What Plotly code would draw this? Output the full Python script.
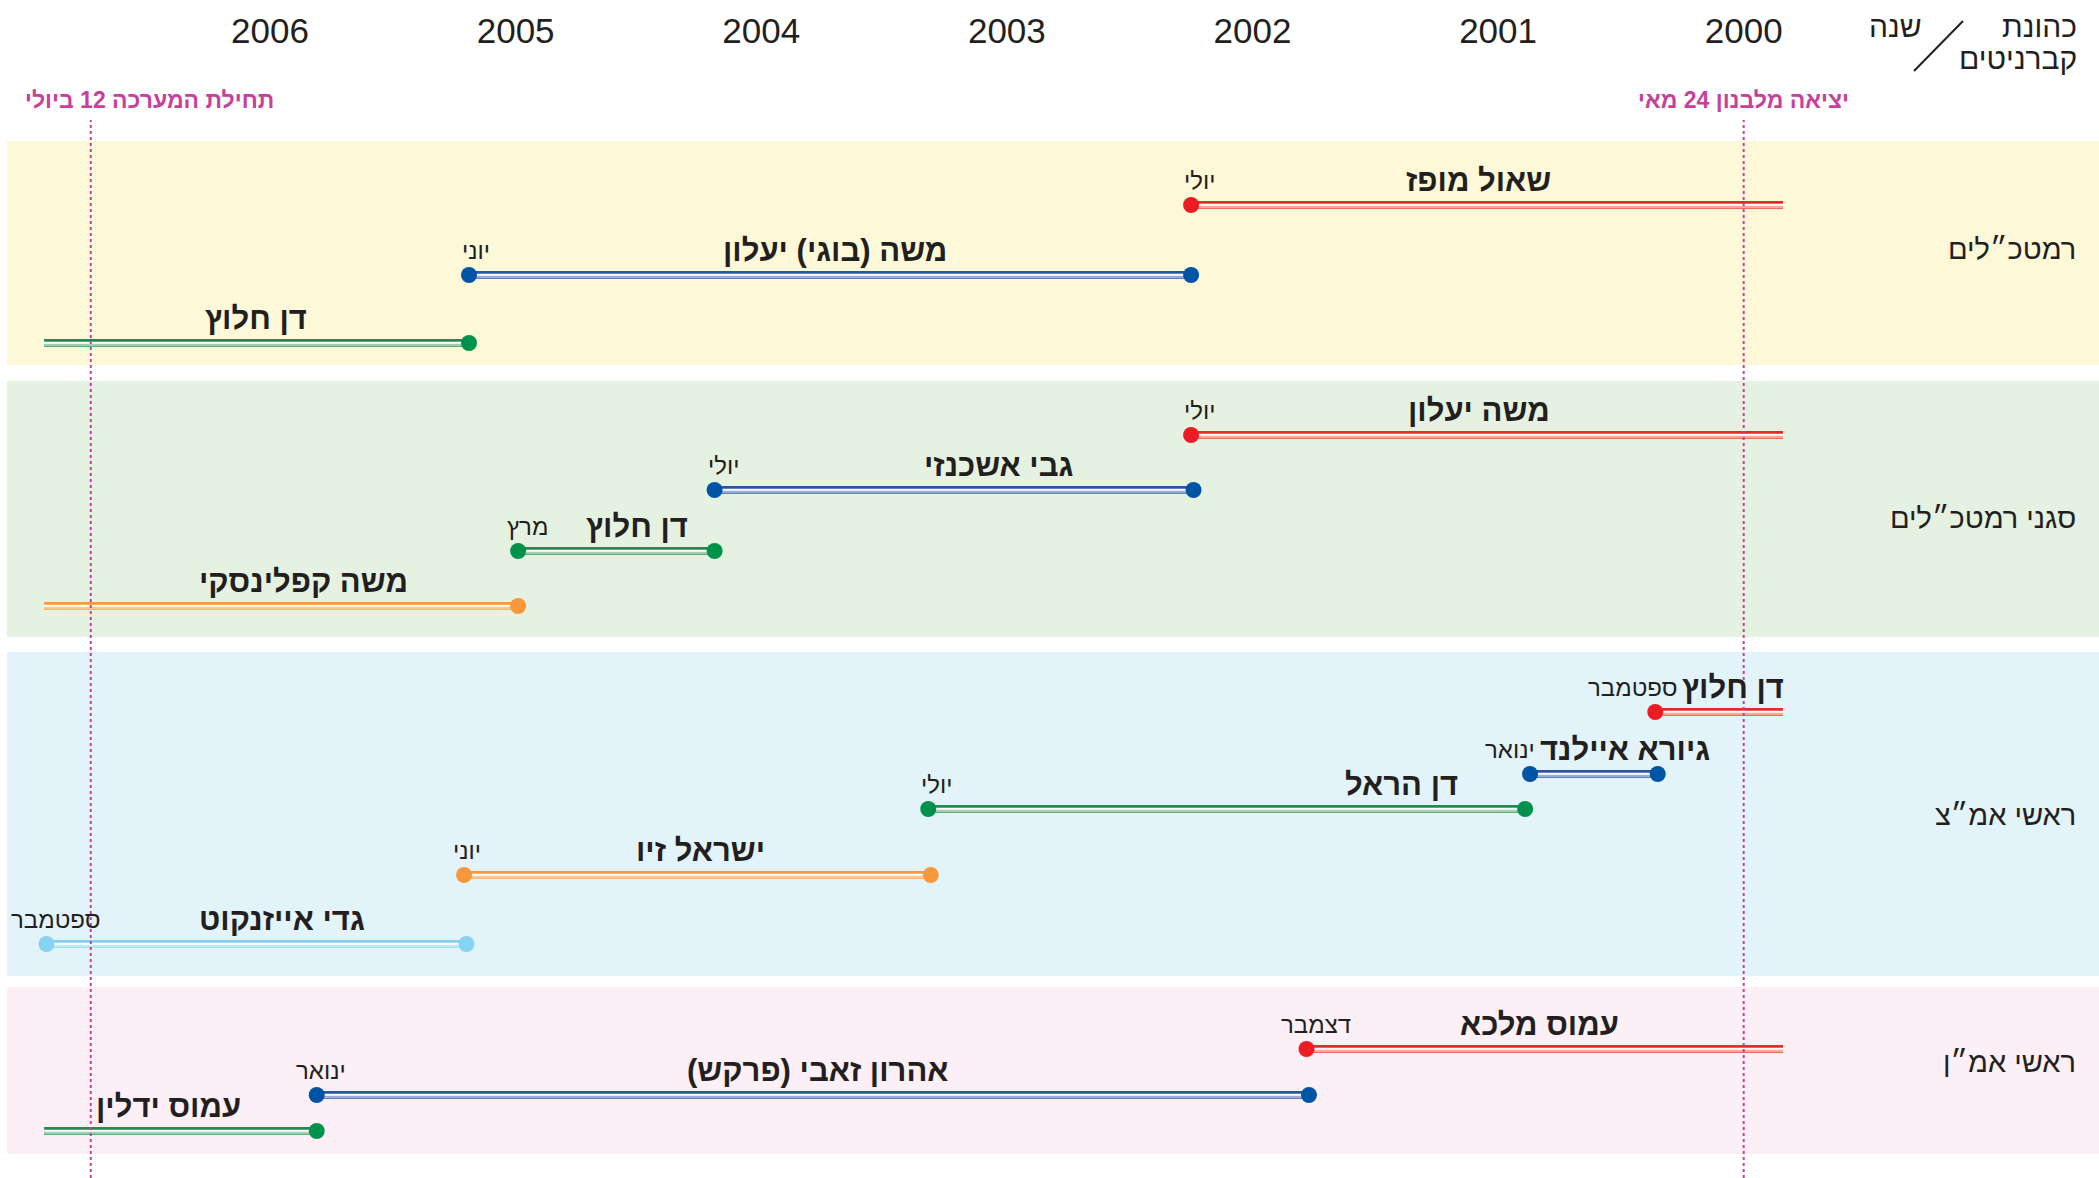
import plotly.graph_objects as go

# ---------------- data ----------------
years = [2000, 2001, 2002, 2003, 2004, 2005, 2006]
groups = ["רמטכ״לים", "סגני רמטכ״לים", "ראשי אמ״צ", "ראשי אמ״ן"]

names = ["שאול מופז", "משה (בוגי) יעלון", "דן חלוץ",
         "משה יעלון", "גבי אשכנזי", "דן חלוץ", "משה קפלינסקי",
         "דן חלוץ", "גיורא איילנד", "דן הראל", "ישראל זיו", "גדי אייזנקוט",
         "עמוס מלכא", "אהרון זאבי (פרקש)", "עמוס ידלין"]
name_group = [0, 0, 0, 1, 1, 1, 1, 2, 2, 2, 2, 2, 3, 3, 3]
term_start = [1999.84, 2002.25, 2005.19,
              1999.84, 2002.24, 2004.19, 2004.99,
              1999.84, 2000.35, 2000.89, 2003.31, 2005.20,
              1999.84, 2001.77, 2005.81]
term_end = [2002.25, 2005.19, 2006.92,
            2002.25, 2004.19, 2004.99, 2006.92,
            2000.36, 2000.87, 2003.32, 2005.21, 2006.91,
            2001.78, 2005.81, 2006.92]
starts_before = [True, False, False, True, False, False, False,
                 True, False, False, False, False, True, False, False]
in_office = [False, False, True, False, False, False, True,
             False, False, False, False, False, False, False, True]
end_month = ["יולי", "יוני", "", "יולי", "יולי", "מרץ", "",
             "ספטמבר", "ינואר", "יולי", "יוני", "ספטמבר",
             "דצמבר", "ינואר", ""]
event_dates = [2006.73, 2000.0]
event_labels = ["תחילת המערכה 12 ביולי", "יציאה מלבנון 24 מאי"]

# ---------------- layout / style ----------------
W, H = 2099, 1178
TOP = 51
bar_y = [205, 275, 343,
         435, 490, 551, 606,
         712, 774, 809, 875, 944,
         1049, 1095, 1131]
name_shift = [-9, 5, -1, -8, 44, 21, 22, 14, 31, 175, 3, 25, -5, 5, -12]
month_shift = [8, 7, 0, 8, 9, 9, 0, -23, -20, 8, 3, 9, 9, 4, 0]
bands = [(141, 365, "#fdf9d8"), (381, 637, "#e6f2e1"),
         (652, 976, "#e2f3fa"), (987, 1154, "#fcf0f6")]
group_label_y = [249, 518, 815, 1062]
palette = {
    "red": ("#ed1c24", "#e52a2a", "#f7a98f"),
    "blue": ("#0054a6", "#2b56a3", "#9aaadb"),
    "green": ("#00924a", "#1f8c4e", "#a3cdb0"),
    "orange": ("#f7993a", "#f59a3c", "#fcc898"),
    "lblue": ("#86d3f4", "#84d0f0", "#c3e9f9"),
}
bar_color = ["red", "blue", "green", "red", "blue", "green", "orange",
             "red", "blue", "green", "orange", "lblue", "red", "blue", "green"]
TXT = "#231f20"
MAG = "#c8409a"
FONT = "Liberation Sans, Arial, DejaVu Sans, sans-serif"

x_right_val = 1998.5534
x_left_val = 2007.0995


def px_to_paper_x(px):
    return px / W


def px_to_paper_y(py):
    return (H - py) / (H - TOP)


fig = go.Figure()

# bars
for i in range(len(names)):
    dot, edge, light = palette[bar_color[i]]
    xs = [term_start[i], term_end[i]]
    y = bar_y[i]
    fig.add_trace(go.Scatter(x=xs, y=[y, y], mode="lines",
                             line=dict(color=edge, width=8), hoverinfo="skip", showlegend=False))
    fig.add_trace(go.Scatter(x=xs, y=[y + 1.5, y + 1.5], mode="lines",
                             line=dict(color=light, width=4), hoverinfo="skip", showlegend=False))
    fig.add_trace(go.Scatter(x=xs, y=[y - 0.3, y - 0.3], mode="lines",
                             line=dict(color="white", width=2), hoverinfo="skip", showlegend=False))
    dx = []
    if not starts_before[i]:
        dx.append(term_start[i])
    if not in_office[i]:
        dx.append(term_end[i])
    if dx:
        fig.add_trace(go.Scatter(x=dx, y=[y] * len(dx), mode="markers",
                                 marker=dict(color=dot, size=16, line=dict(width=0)),
                                 hoverinfo="skip", showlegend=False))
    # name label
    fig.add_annotation(x=(term_start[i] + term_end[i]) / 2, y=y - 25, xref="x", yref="y",
                       text="<b>" + names[i] + "</b>", showarrow=False, xshift=name_shift[i],
                       yanchor="middle",
                       font=dict(family=FONT, size=31, color=TXT))
    if end_month[i]:
        fig.add_annotation(x=term_end[i], y=y - 25, xref="x", yref="y",
                           text=end_month[i], showarrow=False, xshift=month_shift[i],
                           xanchor="center", yanchor="middle",
                           font=dict(family=FONT, size=24, color=TXT))

# bands
for (y0, y1, c) in bands:
    fig.add_shape(type="rect", xref="paper", yref="y", x0=px_to_paper_x(7), x1=1,
                  y0=y0, y1=y1, fillcolor=c, line=dict(width=0), layer="below")

# group labels
for g, gy in zip(groups, group_label_y):
    fig.add_annotation(x=px_to_paper_x(2078), y=gy, xref="paper", yref="y",
                       text=g, showarrow=False, xanchor="right", yanchor="middle",
                       font=dict(family=FONT, size=29, color=TXT))

# event lines
for k, (d, lab) in enumerate(zip(event_dates, event_labels)):
    fig.add_shape(type="line", xref="x", yref="paper", x0=d, x1=d,
                  y0=0, y1=px_to_paper_y(120), line=dict(color=MAG, width=2, dash="dot"),
                  layer="above")
    fig.add_annotation(x=d, y=px_to_paper_y(100), xref="x", yref="paper",
                       text="<b>" + lab + "</b>", showarrow=False,
                       xshift=(59 if k == 0 else 0), yanchor="middle",
                       font=dict(family=FONT, size=23, color=MAG))

# header
fig.add_annotation(x=px_to_paper_x(1924), y=px_to_paper_y(27), xref="paper", yref="paper",
                   text="שנה", showarrow=False, xanchor="right", yanchor="middle",
                   font=dict(family=FONT, size=30, color=TXT))
fig.add_annotation(x=px_to_paper_x(2079), y=px_to_paper_y(27), xref="paper", yref="paper",
                   text="כהונת", showarrow=False, xanchor="right", yanchor="middle",
                   font=dict(family=FONT, size=30, color=TXT))
fig.add_annotation(x=px_to_paper_x(2079), y=px_to_paper_y(59), xref="paper", yref="paper",
                   text="קברניטים", showarrow=False, xanchor="right", yanchor="middle",
                   font=dict(family=FONT, size=30, color=TXT))
fig.add_shape(type="line", xref="paper", yref="paper",
              x0=px_to_paper_x(1963), y0=px_to_paper_y(21),
              x1=px_to_paper_x(1914), y1=px_to_paper_y(71),
              line=dict(color=TXT, width=2))

fig.update_layout(
    width=W, height=H,
    margin=dict(l=0, r=0, t=TOP, b=0),
    paper_bgcolor="white", plot_bgcolor="white",
    showlegend=False,
    xaxis=dict(range=[x_left_val, x_right_val], side="top", tickvals=years,
               ticktext=[str(y) for y in years], showgrid=False, zeroline=False,
               showline=False, ticks="", tickfont=dict(family=FONT, size=35, color=TXT),
               fixedrange=True),
    yaxis=dict(range=[H, TOP], visible=False, fixedrange=True),
)

fig.write_html("out.html", config={"displayModeBar": False},
               post_script="document.body.style.margin='0';")
